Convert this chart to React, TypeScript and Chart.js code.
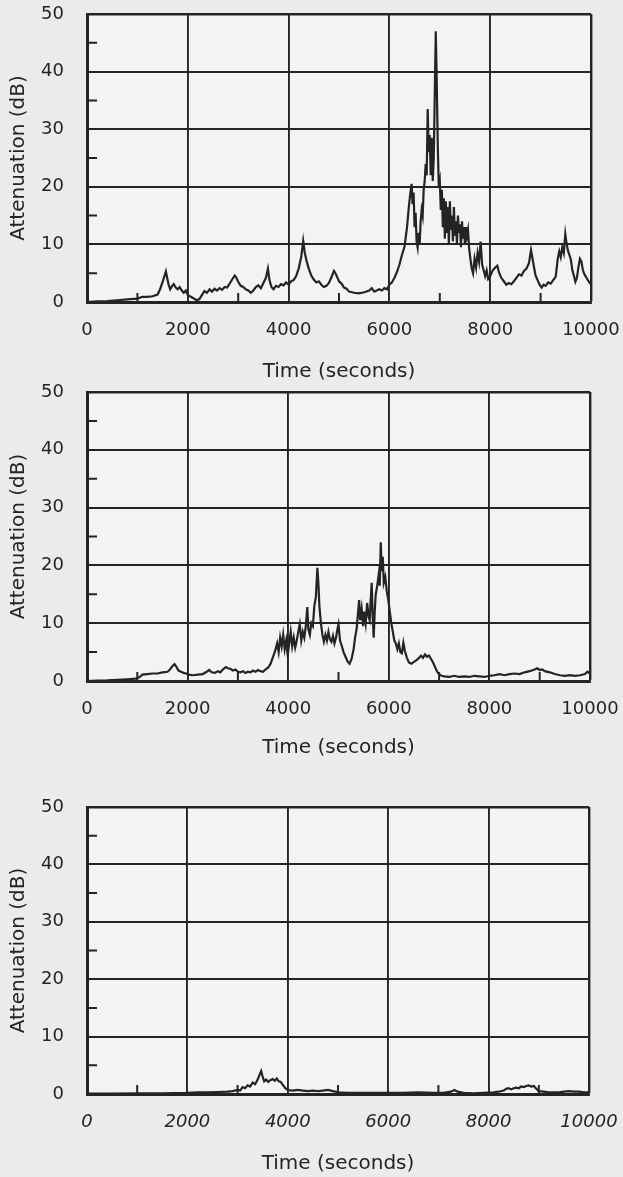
import React, { useEffect, useRef } from "react";
import { Chart, registerables } from "chart.js";

Chart.register(...registerables);

// ---------- axis content ----------
const xTickValues = [0, 2000, 4000, 6000, 8000, 10000];
const yTickValues = [0, 10, 20, 30, 40, 50];
const minorXTicks = [1000, 3000, 5000, 7000, 9000];
const minorYTicks = [5, 15, 25, 35, 45];
const xTitle = "Time (seconds)";
const yTitle = "Attenuation (dB)";

// ---------- panel 1 (top) ----------
const t1 = [
  0, 200, 400, 600, 800, 1000, 1100, 1200, 1300, 1400, 1450, 1500, 1540, 1565, 1590, 1620, 1650, 1690, 1720, 1760,
  1800, 1840, 1880, 1920, 1960, 2000, 2060, 2120, 2180, 2230, 2280, 2330, 2380, 2430, 2480, 2530, 2580, 2630, 2680, 2730,
  2780, 2830, 2880, 2930, 2960, 3000, 3050, 3100, 3150, 3200, 3250, 3300, 3350, 3400, 3450, 3500, 3550, 3590, 3620, 3660,
  3700, 3750, 3800, 3850, 3900, 3950, 4000, 4050, 4100, 4150, 4200, 4250, 4290, 4320, 4360, 4400, 4450, 4500, 4550, 4600,
  4650, 4700, 4750, 4800, 4850, 4900, 4930, 4960, 5000, 5050, 5100, 5150, 5200, 5300, 5400, 5500, 5600, 5650, 5700, 5800,
  5850, 5900, 5950, 6000, 6050, 6100, 6150, 6200, 6250, 6300, 6350, 6380, 6410, 6440, 6460, 6480, 6500, 6520, 6540, 6560,
  6580, 6600, 6620, 6640, 6660, 6680, 6700, 6720, 6740, 6760, 6780, 6800, 6820, 6840, 6860, 6880, 6900, 6920, 6940, 6960,
  6980, 7000, 7020, 7040, 7060, 7080, 7100, 7120, 7140, 7160, 7180, 7200, 7220, 7240, 7260, 7280, 7300, 7320, 7340, 7360,
  7380, 7400, 7420, 7440, 7460, 7480, 7500, 7520, 7540, 7560, 7580, 7600, 7630, 7660, 7690, 7720, 7750, 7780, 7810, 7840,
  7870, 7900, 7930, 7960, 8000, 8050, 8100, 8140, 8180, 8220, 8270, 8320, 8370, 8420, 8470, 8520, 8570, 8620, 8670, 8720,
  8770, 8810, 8840, 8870, 8900, 8940, 8980, 9020, 9060, 9100, 9150, 9200, 9250, 9300, 9340, 9370, 9400, 9430, 9460, 9490,
  9510, 9540, 9570, 9600, 9630, 9660, 9690, 9720, 9750, 9780, 9810, 9840, 9870, 9910, 9950, 10000,
];
const v1 = [
  0.0, 0.1, 0.15, 0.3, 0.45, 0.6, 0.9, 0.9, 1.0, 1.3, 2.2, 3.5, 4.6, 5.3, 4.2, 3.0, 2.2, 2.8, 3.1, 2.5,
  2.2, 2.6, 2.0, 1.6, 2.0, 1.2, 0.9, 0.6, 0.3, 0.5, 1.2, 1.9, 1.6, 2.2, 1.8, 2.3, 2.0, 2.4, 2.1, 2.6,
  2.5, 3.2, 3.9, 4.6, 4.3, 3.5, 2.8, 2.6, 2.2, 2.0, 1.6, 2.0, 2.6, 2.9, 2.4, 3.3, 4.2, 5.8, 3.8, 2.6,
  2.2, 2.8, 2.6, 3.1, 2.9, 3.4, 3.0, 3.6, 3.8, 4.5, 5.8, 7.8, 10.6, 8.6, 7.0, 5.8, 4.6, 3.9, 3.4, 3.6,
  3.0, 2.6, 2.8, 3.3, 4.3, 5.4, 5.0, 4.4, 3.6, 3.2, 2.5, 2.3, 1.8, 1.6, 1.5, 1.7, 2.0, 2.4, 1.8, 2.2,
  2.0, 2.4, 2.2, 3.0, 3.4, 4.2, 5.2, 6.5, 8.2, 9.6, 13.0, 16.0, 18.5, 20.5, 17.0, 19.0, 13.0, 15.5, 10.5, 9.5,
  12.0, 10.0, 14.0, 16.0, 15.0, 19.5, 21.0, 24.0, 22.0, 33.5, 26.0, 29.0, 22.0, 28.5, 21.0, 25.0, 36.0, 47.0, 38.0, 27.0,
  20.0, 21.0, 16.0, 19.5, 13.0, 18.0, 11.0, 17.5, 12.0, 16.5, 10.0, 17.5, 12.5, 15.0, 10.5, 16.5, 11.5, 14.0, 10.0, 15.0,
  12.0, 13.5, 9.5, 14.0, 11.0, 13.0, 10.0, 13.0, 11.5, 12.5, 9.5, 8.0, 6.0, 5.0, 7.5, 6.0, 8.5, 7.0, 10.5, 6.5,
  5.5, 4.5, 5.5, 4.0, 4.5, 5.5, 6.0, 6.3, 5.0, 4.2, 3.6, 3.0, 3.3, 3.1, 3.6, 4.2, 4.8, 4.6, 5.4, 5.8,
  6.8, 9.0, 7.5, 6.0, 4.6, 3.8, 3.0, 2.5, 3.0, 2.8, 3.4, 3.2, 3.8, 4.4, 7.5, 8.8, 7.8, 9.5, 8.5, 11.8,
  10.5, 9.0, 8.2, 7.4, 5.5, 4.6, 3.5, 4.2, 6.0, 7.5, 7.0, 5.5, 4.8, 4.2, 3.6, 3.0,
];

// ---------- panel 2 (middle) ----------
const t2 = [
  0, 200, 400, 600, 800, 980, 1050, 1100, 1200, 1300, 1400, 1500, 1600, 1650, 1700, 1740, 1780, 1820, 1870, 1920,
  1970, 2020, 2100, 2200, 2300, 2380, 2430, 2480, 2540, 2600, 2650, 2700, 2760, 2800, 2850, 2900, 2950, 3000, 3050, 3100,
  3150, 3200, 3250, 3300, 3350, 3400, 3450, 3500, 3550, 3600, 3650, 3700, 3740, 3780, 3810, 3840, 3870, 3900, 3930, 3960,
  3990, 4020, 4050, 4080, 4110, 4140, 4170, 4200, 4230, 4260, 4290, 4320, 4350, 4380, 4400, 4430, 4460, 4490, 4520, 4550,
  4580, 4600, 4620, 4650, 4680, 4710, 4740, 4770, 4800, 4830, 4860, 4890, 4920, 4950, 4980, 5000, 5030, 5060, 5100, 5140,
  5180, 5220, 5260, 5300, 5330, 5360, 5380, 5410, 5430, 5460, 5490, 5510, 5540, 5570, 5600, 5620, 5640, 5660, 5680, 5700,
  5720, 5740, 5770, 5800, 5820, 5840, 5860, 5880, 5900, 5930, 5960, 5990, 6020, 6050, 6080, 6110, 6140, 6170, 6200, 6230,
  6260, 6290, 6320, 6360, 6400, 6450, 6500, 6550, 6600, 6640, 6680, 6720, 6760, 6800, 6840, 6880, 6920, 6960, 7000, 7050,
  7100, 7200, 7300, 7400, 7500, 7600, 7700, 7800, 7900, 8000, 8100, 8200, 8300, 8400, 8500, 8600, 8700, 8800, 8900, 8950,
  9000, 9050, 9100, 9200, 9300, 9400, 9500, 9600, 9700, 9800, 9900, 9950, 10000,
];
const v2 = [
  0.0, 0.05, 0.1, 0.2, 0.3, 0.4, 0.7, 1.1, 1.2, 1.3, 1.3, 1.5, 1.6, 2.0, 2.6, 2.9, 2.4, 1.8, 1.6, 1.4,
  1.3, 1.1, 1.0, 1.1, 1.2, 1.6, 1.9, 1.5, 1.4, 1.7, 1.5, 2.0, 2.4, 2.2, 2.1, 1.8, 2.0, 1.6, 1.5, 1.7,
  1.4, 1.6, 1.5, 1.8, 1.6, 1.9, 1.7, 1.6, 2.0, 2.3, 3.0, 4.2, 5.2, 6.5, 5.0, 7.5, 6.0, 8.0, 5.5, 7.0,
  4.5, 6.5, 8.5, 6.0, 7.5, 5.8, 7.0, 8.5, 9.8, 7.0, 8.5, 7.5, 9.5, 12.8, 9.0, 8.0, 10.0, 9.5, 13.0, 14.5,
  19.6, 17.0, 13.0, 10.0, 8.0, 6.8, 8.0, 7.0, 8.5, 7.2, 6.8, 7.8, 6.5, 7.5, 9.0, 9.8, 7.0, 6.2, 5.0, 4.2,
  3.4, 3.0, 3.8, 5.5, 7.5, 9.0, 11.0, 14.0, 10.5, 12.5, 9.5, 12.0, 10.0, 13.5, 11.0, 10.5, 14.0, 17.0, 11.0, 7.5,
  12.0, 15.0, 16.5, 18.5, 16.5, 24.0, 19.0, 21.5, 17.0, 18.0, 15.5, 14.0, 12.0, 10.0, 8.5, 7.0, 6.5, 5.5, 6.5, 5.0,
  4.8, 6.6, 5.2, 4.0, 3.2, 3.0, 3.3, 3.6, 4.0, 4.4, 4.0, 4.6, 4.2, 4.4, 3.8, 3.2, 2.4, 1.6, 1.2, 0.9,
  0.8, 0.7, 0.9, 0.7, 0.8, 0.7, 0.9, 0.8, 0.7, 0.9, 1.0, 1.2, 1.0, 1.2, 1.3, 1.2, 1.5, 1.7, 2.0, 2.2,
  1.9, 2.0, 1.7, 1.5, 1.2, 1.0, 0.9, 1.0, 0.9, 1.0, 1.2, 1.6, 1.3,
];

// ---------- panel 3 (bottom) ----------
const t3 = [
  0, 500, 1000, 1500, 2000, 2200, 2400, 2600, 2800, 2900, 3000, 3050, 3100, 3150, 3200, 3250, 3300, 3350, 3400, 3440,
  3470, 3500, 3530, 3570, 3610, 3650, 3700, 3740, 3780, 3820, 3860, 3900, 3950, 4000, 4100, 4200, 4300, 4400, 4500, 4600,
  4700, 4800, 4900, 5000, 5200, 5500, 5800, 6000, 6300, 6600, 6900, 7100, 7250, 7320, 7380, 7500, 7700, 7900, 8100, 8200,
  8300, 8350, 8400, 8450, 8500, 8550, 8600, 8650, 8700, 8750, 8800, 8850, 8900, 8950, 9000, 9100, 9200, 9300, 9400, 9500,
  9600, 9700, 9800, 9900, 10000,
];
const v3 = [
  0.05, 0.05, 0.1, 0.1, 0.2, 0.3, 0.3, 0.35, 0.4, 0.5, 0.7, 0.6, 1.2, 1.0, 1.5, 1.3, 2.0, 1.7, 2.5, 3.4,
  4.0, 3.0, 2.2, 2.5, 2.1, 2.4, 2.6, 2.3, 2.7, 2.2, 2.1, 1.6, 1.0, 0.7, 0.6, 0.7, 0.6, 0.5, 0.6, 0.5,
  0.6, 0.7, 0.5, 0.3, 0.2, 0.2, 0.2, 0.2, 0.2, 0.3, 0.2, 0.2, 0.4, 0.7, 0.4, 0.2, 0.1, 0.2, 0.3, 0.4,
  0.6, 0.9, 1.0, 0.8, 1.0, 1.1, 1.0, 1.3, 1.2, 1.4, 1.5, 1.3, 1.4, 0.9, 0.5, 0.4, 0.3, 0.3, 0.3, 0.4,
  0.5, 0.4, 0.4, 0.3, 0.3,
];

const INK = "#242424";
const FONT = "'DejaVu Sans', sans-serif";

type PanelProps = {
  times: number[];
  values: number[];
  top: number;
  height: number;
  padTop: number;
  padRight: number;
  xAxisHeight: number;
  xTitlePad: number;
  italicTicks?: boolean;
};

const areaPlugin = {
  id: "plotArea",
  beforeDraw(chart: any) {
    const { ctx, chartArea } = chart;
    ctx.save();
    ctx.fillStyle = "#f3f3f3";
    ctx.fillRect(chartArea.left, chartArea.top, chartArea.right - chartArea.left, chartArea.bottom - chartArea.top);
    ctx.restore();
  },
};

const minorTickPlugin = {
  id: "minorTicks",
  afterDraw(chart: any) {
    const { ctx, chartArea, scales } = chart;
    ctx.save();
    ctx.strokeStyle = INK;
    ctx.lineWidth = 2;
    ctx.beginPath();
    for (const v of minorYTicks) {
      const y = scales.y.getPixelForValue(v);
      ctx.moveTo(chartArea.left, y);
      ctx.lineTo(chartArea.left + 10, y);
    }
    for (const v of minorXTicks) {
      const x = scales.x.getPixelForValue(v);
      ctx.moveTo(x, chartArea.bottom);
      ctx.lineTo(x, chartArea.bottom - 9);
    }
    ctx.stroke();
    ctx.restore();
  },
};

function Panel(p: PanelProps) {
  const ref = useRef<HTMLCanvasElement | null>(null);
  useEffect(() => {
    if (!ref.current) return;
    const data = p.times.map((t, i) => ({ x: t, y: p.values[i] }));
    const chart = new Chart(ref.current, {
      type: "line",
      data: {
        datasets: [
          {
            data,
            borderColor: INK,
            borderWidth: 2.2,
            pointRadius: 0,
            tension: 0,
            fill: false,
          },
        ],
      },
      plugins: [areaPlugin, minorTickPlugin],
      options: {
        animation: false,
        responsive: false,
        devicePixelRatio: 1,
        layout: { padding: { top: p.padTop, right: p.padRight, left: 0, bottom: 0 } },
        plugins: { legend: { display: false }, tooltip: { enabled: false } },
        scales: {
          x: {
            type: "linear",
            min: 0,
            max: 10000,
            afterBuildTicks: (s: any) => {
              s.ticks = xTickValues.map((v) => ({ value: v }));
            },
            afterFit: (s: any) => {
              s.height = p.xAxisHeight;
              s.paddingLeft = 0;
              s.paddingRight = 0;
              s.paddingTop = 0;
              s.paddingBottom = 0;
            },
            grid: {
              color: INK,
              lineWidth: (c: any) => (c.tick && c.tick.value === 10000 ? 2.4 : 1.9),
              drawTicks: false,
            },
            border: { display: true, color: INK, width: 3 },
            ticks: {
              color: INK,
              padding: 18,
              maxRotation: 0,
              autoSkip: false,
              font: { family: FONT, size: 18, style: p.italicTicks ? "italic" : "normal" },
              callback: (v: any) => String(v),
            },
            title: {
              display: true,
              text: xTitle,
              color: INK,
              font: { family: FONT, size: 20 },
              padding: { top: 0, bottom: p.xTitlePad },
            },
          },
          y: {
            type: "linear",
            min: 0,
            max: 50,
            afterBuildTicks: (s: any) => {
              s.ticks = yTickValues.map((v) => ({ value: v }));
            },
            afterFit: (s: any) => {
              s.width = 87;
              s.paddingLeft = 0;
              s.paddingRight = 0;
              s.paddingTop = 0;
              s.paddingBottom = 0;
            },
            grid: {
              color: INK,
              lineWidth: (c: any) => (c.tick && c.tick.value === 50 ? 2.4 : 1.9),
              drawTicks: false,
            },
            border: { display: true, color: INK, width: 3 },
            ticks: {
              color: INK,
              padding: 23,
              font: { family: FONT, size: 18 },
              callback: (v: any) => String(v),
            },
            title: {
              display: true,
              text: yTitle,
              color: INK,
              font: { family: FONT, size: 20 },
              padding: { top: 7, bottom: 0 },
            },
          },
        },
      },
    } as any);
    return () => chart.destroy();
  }, []);
  return (
    <canvas
      ref={ref}
      width={623}
      height={p.height}
      style={{ position: "absolute", left: 0, top: p.top, width: 623, height: p.height, display: "block" }}
    />
  );
}

export default function App() {
  return (
    <div
      style={{
        position: "absolute",
        left: 0,
        top: 0,
        width: 623,
        height: 1177,
        background: "#ebebeb",
        overflow: "hidden",
      }}
    >
      <Panel times={t1} values={v1} top={0} height={390} padTop={14} padRight={32} xAxisHeight={88} xTitlePad={6} />
      <Panel times={t2} values={v2} top={378} height={390} padTop={14} padRight={33} xAxisHeight={87} xTitlePad={8} />
      <Panel
        times={t3}
        values={v3}
        top={793}
        height={384}
        padTop={14}
        padRight={34}
        xAxisHeight={83}
        xTitlePad={1}
        italicTicks
      />
    </div>
  );
}
